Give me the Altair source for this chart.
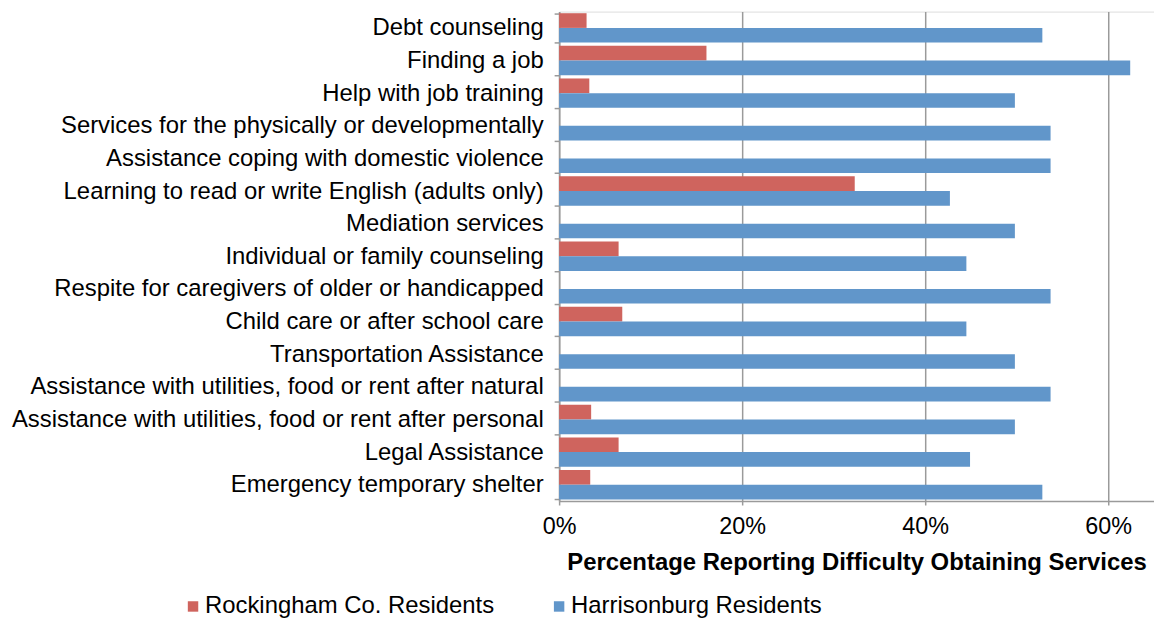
import altair as alt
import pandas as pd

categories = [
    "Debt counseling",
    "Finding a job",
    "Help with job training",
    "Services for the physically or developmentally",
    "Assistance coping with domestic violence",
    "Learning to read or write English (adults only)",
    "Mediation services",
    "Individual or family counseling",
    "Respite for caregivers of older or handicapped",
    "Child care or after school care",
    "Transportation Assistance",
    "Assistance with utilities, food or rent after natural",
    "Assistance with utilities, food or rent after personal",
    "Legal Assistance",
    "Emergency temporary shelter",
]
rockingham = [3.0, 16.1, 3.3, 0, 0, 32.3, 0, 6.5, 0, 6.9, 0, 0, 3.5, 6.5, 3.4]
harrisonburg = [52.8, 62.4, 49.8, 53.7, 53.7, 42.7, 49.8, 44.5, 53.7, 44.5, 49.8, 53.7, 49.8, 44.9, 52.8]
series = ["Rockingham Co. Residents", "Harrisonburg Residents"]
colors = ["#CF645E", "#6196CA"]
x_ticks = [0, 20, 40, 60]

rows = []
for c, r, h in zip(categories, rockingham, harrisonburg):
    rows.append({"Service": c, "Group": series[0], "Pct": r})
    rows.append({"Service": c, "Group": series[1], "Pct": h})
df = pd.DataFrame(rows)

FONT = "Liberation Sans"
GRID = "#9a9a9a"

chart = alt.Chart(df).mark_bar().encode(
    y=alt.Y(
        "Service:N",
        sort=categories,
        scale=alt.Scale(paddingInner=0.1, paddingOuter=0.05),
        axis=alt.Axis(
            title=None,
            tickBand="extent",
            tickSize=5,
            tickColor=GRID,
            domainColor=GRID,
            domainWidth=1.5,
            tickWidth=1.5,
            labelPadding=11,
            labelFont=FONT,
            labelFontSize=24,
            labelColor="#000000",
            labelLimit=600,
            grid=False,
        ),
    ),
    yOffset=alt.YOffset("Group:N", sort=series, scale=alt.Scale(domain=series, paddingInner=0, paddingOuter=0)),
    x=alt.X(
        "Pct:Q",
        scale=alt.Scale(domain=[0, 65], nice=False),
        axis=alt.Axis(
            title="Percentage Reporting Difficulty Obtaining Services",
            values=x_ticks,
            labelExpr="datum.value + '%'",
            labelFlush=False,
            grid=True,
            gridColor=GRID,
            gridWidth=1.5,
            tickColor=GRID,
            tickWidth=1.5,
            tickSize=4,
            domainColor=GRID,
            domainWidth=1.5,
            labelFont=FONT,
            labelFontSize=23.5,
            labelColor="#000000",
            labelPadding=10,
            titleFont=FONT,
            titleFontSize=24,
            titleFontWeight="bold",
            titleColor="#000000",
            titlePadding=12,
        ),
    ),
    color=alt.Color(
        "Group:N",
        sort=series,
        scale=alt.Scale(domain=series, range=colors),
        legend=alt.Legend(
            title=None,
            orient="none",
            direction="horizontal",
            legendX=-380,
            legendY=586,
            symbolType="square",
            symbolSize=110,
            symbolStrokeWidth=0,
            labelFont=FONT,
            labelFontSize=24,
            labelColor="#000000",
            labelOffset=0,
            columnPadding=53,
            labelLimit=400,
        ),
    ),
).properties(
    width=598,
    height=492,
    autosize=alt.AutoSizeParams(type="none"),
    padding={"left": 554, "top": 2, "right": 0, "bottom": 117},
).configure_view(stroke=None).configure(
    background="#ffffff"
)

chart.save("out.html", embed_options={"renderer": "svg", "actions": False})
